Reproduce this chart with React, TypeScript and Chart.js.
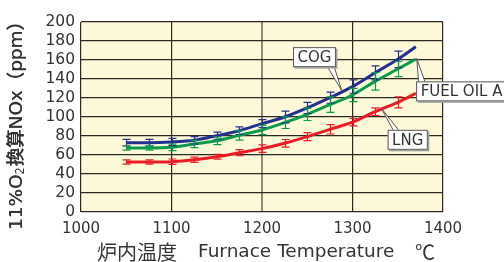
import React, { useEffect, useRef } from "react";
import { Chart, registerables } from "chart.js";

Chart.register(...registerables);

// ---- data ----
const temps = [1050, 1075, 1100, 1125, 1150, 1175, 1200, 1225, 1250, 1275, 1300, 1325, 1350, 1370];
const cogValues = [73, 73, 73.7, 75.5, 80.3, 85.6, 93, 100, 109.5, 120.3, 132, 146.5, 160.7, 174];
const fuelOilValues = [67.4, 67.4, 68.1, 71.6, 75, 80.7, 86.3, 94, 102.8, 113, 123.2, 137.5, 150.5, 161];
const lngValues = [52.6, 52.6, 53, 55, 58.2, 62.4, 66.7, 72.3, 79.3, 87, 94.5, 105.6, 115.5, 125];
const cogErrors = [3.5, 3.5, 3.9, 3.9, 3.7, 4, 4.2, 6.1, 5.8, 5.8, 7, 7.4, 8.7, null];
const fuelOilErrors = [2.3, 2.3, 3.4, 3.9, 4, 5, 4.9, 6.1, 6.5, 8.2, 7, 9.3, 7.9, null];
const lngErrors = [2.3, 2.3, 2.8, 2.8, 2.6, 3.2, 4, 4, 4.2, 4.9, 3.9, 4, 5.8, null];
const seriesNames = ["COG", "FUEL OIL A", "LNG"];
const xTickValues = [1000, 1100, 1200, 1300, 1400];
const yMin = 0;
const yMax = 200;
const yStep = 20;
const yTitleParts = ["11%O", "2", "換算NOx（ppm）"];
const xTitleParts = ["炉内温度", "Furnace Temperature", "℃"];

// ---- styles ----
const COLORS = ["#24308f", "#0c9b4c", "#ec1c24"];
const TEXT = "#333333";
const GRID = "#2d2822";
const BG = "#fdf8d8";

// callout anchors in data coordinates
const callouts = [
  { name: seriesNames[0], box: { x: 1258, y: 163 }, tip: { x: 1288, y: 128 }, side: "bottom", base: [34, 41] },
  { name: seriesNames[1], box: { x: 1420.5, y: 127 }, tip: { x: 1371, y: 161.5 }, side: "top", base: [2.5, 9] },
  { name: seriesNames[2], box: { x: 1361, y: 76 }, tip: { x: 1332, y: 109 }, side: "top", base: [6, 11.5] },
];

const bgPlugin = {
  id: "bg",
  beforeDraw(chart: any) {
    const { ctx, chartArea: a } = chart;
    ctx.save();
    ctx.fillStyle = BG;
    ctx.fillRect(a.left, a.top, a.right - a.left, a.bottom - a.top);
    ctx.restore();
  },
};

const errorBarPlugin = {
  id: "errbars",
  afterDatasetsDraw(chart: any) {
    const { ctx } = chart;
    const xs = chart.scales.x;
    const ys = chart.scales.y;
    chart.data.datasets.forEach((ds: any) => {
      ctx.save();
      ctx.strokeStyle = ds.borderColor;
      ctx.lineWidth = 1.2;
      ds.data.forEach((p: any, i: number) => {
        const e = ds.errors[i];
        if (e == null) return;
        const px = Math.round(xs.getPixelForValue(p.x)) + 0.5;
        const yt = ys.getPixelForValue(p.y + e);
        const yb = ys.getPixelForValue(p.y - e);
        ctx.beginPath();
        ctx.moveTo(px, yt);
        ctx.lineTo(px, yb);
        ctx.moveTo(px - 4, yt);
        ctx.lineTo(px + 4, yt);
        ctx.moveTo(px - 4, yb);
        ctx.lineTo(px + 4, yb);
        ctx.stroke();
      });
      ctx.restore();
    });
  },
};

const calloutPlugin = {
  id: "callouts",
  afterDatasetsDraw(chart: any) {
    const { ctx } = chart;
    const xs = chart.scales.x;
    const ys = chart.scales.y;
    ctx.save();
    ctx.font = "15px 'DejaVu Sans'";
    callouts.forEach((c) => {
      const tw = ctx.measureText(c.name).width;
      const w = tw + 9;
      const h = 20;
      const cx = xs.getPixelForValue(c.box.x);
      const cy = ys.getPixelForValue(c.box.y);
      const left = cx - w / 2;
      const top = cy - h / 2;
      const tx = xs.getPixelForValue(c.tip.x);
      const ty = ys.getPixelForValue(c.tip.y);
      const by = c.side === "bottom" ? top + h - 1 : top + 1;
      ctx.beginPath();
      ctx.moveTo(left + c.base[0], by);
      ctx.lineTo(tx, ty);
      ctx.lineTo(left + c.base[1], by);
      ctx.closePath();
      ctx.fillStyle = "#ffffff";
      ctx.fill();
      ctx.strokeStyle = "#555555";
      ctx.lineWidth = 1;
      ctx.beginPath();
      ctx.moveTo(left + c.base[0], by);
      ctx.lineTo(tx, ty);
      ctx.lineTo(left + c.base[1], by);
      ctx.stroke();
      ctx.fillStyle = "#a0a0a0";
      ctx.fillRect(left + 1.5, top + 1.5, w, h);
      ctx.fillStyle = "#ffffff";
      ctx.fillRect(left, top, w, h);
      ctx.strokeStyle = "#555555";
      ctx.strokeRect(left + 0.5, top + 0.5, w - 1, h - 1);
      ctx.fillStyle = TEXT;
      ctx.textAlign = "center";
      ctx.textBaseline = "middle";
      ctx.fillText(c.name, left + w / 2, top + h / 2 + 1);
    });
    ctx.restore();
  },
};

const titlePlugin = {
  id: "titles",
  afterDraw(chart: any) {
    const { ctx } = chart;
    ctx.save();
    ctx.fillStyle = TEXT;
    // y title (rotated, with subscript), fitted to ~218px length
    const targetLen = 218;
    const fam = "'DejaVu Sans', 'Noto Sans CJK JP'";
    const measure = (size: number) => {
      let w = 0;
      yTitleParts.forEach((t, i) => {
        const sub = i === 1;
        ctx.font = `500 ${sub ? size * 0.62 : size}px ${fam}`;
        w += ctx.measureText(t).width + (sub ? 1 : 0);
      });
      return w;
    };
    const size = 17 * targetLen / measure(17);
    ctx.translate(17, 230);
    ctx.rotate(-Math.PI / 2);
    ctx.textAlign = "left";
    ctx.textBaseline = "middle";
    let x = 0;
    yTitleParts.forEach((t, i) => {
      const sub = i === 1;
      ctx.font = `500 ${sub ? size * 0.62 : size}px ${fam}`;
      ctx.fillText(t, x, sub ? 4 : 0);
      if (!sub) ctx.fillText(t, x + 0.4, 0);
      x += ctx.measureText(t).width + (sub ? 1 : 0);
    });
    ctx.restore();

    // x title
    ctx.save();
    ctx.fillStyle = TEXT;
    ctx.textBaseline = "middle";
    ctx.textAlign = "left";
    ctx.font = "20px 'Noto Sans CJK JP'";
    ctx.fillText(xTitleParts[0], 97, 252);
    ctx.font = "18.5px 'DejaVu Sans'";
    ctx.fillText(xTitleParts[1], 198, 252);
    ctx.font = "20px 'Noto Sans CJK JP'";
    ctx.fillText(xTitleParts[2], 415, 252);
    ctx.restore();
  },
};

function mk(values: number[], errors: (number | null)[], i: number) {
  return {
    label: seriesNames[i],
    data: temps.map((t, k) => ({ x: t, y: values[k] })),
    errors,
    borderColor: COLORS[i],
    backgroundColor: COLORS[i],
    borderWidth: 3,
    pointRadius: 0,
    cubicInterpolationMode: "monotone",
    fill: false,
  };
}

export default function App() {
  const ref = useRef<HTMLCanvasElement | null>(null);
  useEffect(() => {
    document.body.style.margin = "0";
    if (!ref.current) return;
    const chart = new Chart(ref.current, {
      type: "line",
      data: {
        datasets: [
          mk(cogValues, cogErrors, 0),
          mk(fuelOilValues, fuelOilErrors, 1),
          mk(lngValues, lngErrors, 2),
        ] as any,
      },
      options: {
        animation: false,
        responsive: false,
        devicePixelRatio: 1,
        layout: { padding: { top: 22, right: 61, left: 0, bottom: 0 } },
        plugins: { legend: { display: false }, tooltip: { enabled: false } },
        scales: {
          x: {
            type: "linear",
            min: xTickValues[0],
            max: xTickValues[xTickValues.length - 1],
            afterBuildTicks: (s: any) => {
              s.ticks = xTickValues.map((v) => ({ value: v }));
            },
            afterFit: (s: any) => {
              s.height = 50;
            },
            ticks: {
              color: TEXT,
              font: { family: "'DejaVu Sans'", size: 15 },
              padding: 8,
              maxRotation: 0,
              autoSkip: false,
              callback: (v: any) => String(v),
            },
            grid: {
              color: (c: any) => (c.tick && c.tick.value === 1200 ? "#8f8a7c" : GRID),
              lineWidth: (c: any) => (c.tick && c.tick.value === 1200 ? 2 : 1.2),
              drawTicks: false,
            },
            border: { display: false },
          },
          y: {
            min: yMin,
            max: yMax,
            afterFit: (s: any) => {
              s.width = 81;
            },
            ticks: {
              stepSize: yStep,
              color: TEXT,
              font: { family: "'DejaVu Sans'", size: 15.5 },
              padding: 6,
              autoSkip: false,
              callback: (v: any) => String(v),
            },
            grid: { color: GRID, lineWidth: 1.2, drawTicks: false },
            border: { display: false },
          },
        },
      } as any,
      plugins: [bgPlugin, errorBarPlugin, calloutPlugin, titlePlugin],
    });
    return () => chart.destroy();
  }, []);
  return (
    <div style={{ position: "absolute", left: 0, top: 0, width: 504, height: 262 }}>
      <canvas ref={ref} width={504} height={262} />
    </div>
  );
}
